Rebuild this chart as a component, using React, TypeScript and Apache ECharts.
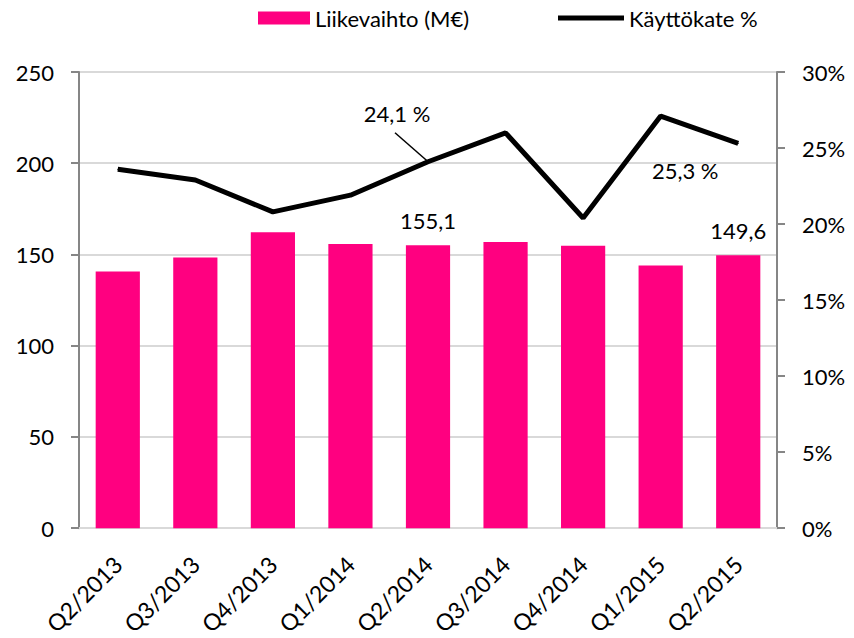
import React, { useEffect, useRef } from 'react';
import * as echarts from 'echarts';

const categories = ['Q2/2013', 'Q3/2013', 'Q4/2013', 'Q1/2014', 'Q2/2014', 'Q3/2014', 'Q4/2014', 'Q1/2015', 'Q2/2015'];
const revenue = [140.7, 148.3, 162.2, 155.8, 155.1, 156.9, 154.8, 143.9, 149.6];
const ebitdaPct = [23.6, 22.9, 20.8, 21.9, 24.1, 26.0, 20.4, 27.1, 25.3];
const revenueLabelIdx = [4, 8];
const ebitdaLabelIdx = [4, 8];
const leaderIdx = 4;
const leftTicks = { min: 0, max: 250, interval: 50 };
const rightTicks = { min: 0, max: 30, interval: 5 };
const seriesNames = ['Liikevaihto (M€)', 'Käyttökate %'];

const FONT = 'Lato, "Noto Sans", sans-serif';
const fi = (v: number) => v.toFixed(1).replace('.', ',');

export default function App() {
  const ref = useRef<HTMLDivElement>(null);
  useEffect(() => {
    if (!ref.current) return;
    const chart = echarts.init(ref.current, null, { renderer: 'svg' });
    const barData = revenue.map((v, i) =>
      revenueLabelIdx.includes(i) ? { value: v, label: { show: true } } : v
    );
    const lineData = ebitdaPct.map((v, i) =>
      ebitdaLabelIdx.includes(i) ? { value: v, label: { show: true } } : v
    );
    const labelShift: Record<number, { dx: number; dy: number }> = {
      4: { dx: -31, dy: -32 },
      8: { dx: -53, dy: 44 },
    };
    chart.setOption({
      animation: false,
      textStyle: { fontFamily: FONT },
      legend: [
        {
          left: 258,
          top: 7,
          padding: 0,
          itemWidth: 52,
          itemHeight: 13,
          icon: 'rect',
          data: [seriesNames[0]],
          textStyle: { fontFamily: FONT, fontSize: 22, color: '#000' },
        },
        {
          left: 558,
          top: 7,
          padding: 0,
          itemWidth: 66,
          itemHeight: 5,
          icon: 'rect',
          data: [seriesNames[1]],
          textStyle: { fontFamily: FONT, fontSize: 22, color: '#000' },
        },
      ],
      grid: { left: 79, right: 77, top: 72, bottom: 104, containLabel: false },
      xAxis: {
        type: 'category',
        data: categories,
        axisLine: { lineStyle: { color: '#d9d9d9', width: 2 } },
        axisTick: { show: false },
        axisLabel: {
          rotate: 45,
          margin: 32,
          interval: 0,
          fontFamily: FONT,
          fontSize: 23,
          color: '#000',
        },
      },
      yAxis: [
        {
          type: 'value',
          ...leftTicks,
          axisLine: { show: true, lineStyle: { color: '#868686', width: 2 } },
          axisTick: { show: true, length: 8, lineStyle: { color: '#868686', width: 2 } },
          axisLabel: { margin: 25, fontFamily: FONT, fontSize: 22, color: '#000' },
          splitLine: { show: true, lineStyle: { color: '#d9d9d9', width: 2 } },
        },
        {
          type: 'value',
          ...rightTicks,
          position: 'right',
          axisLine: { show: true, lineStyle: { color: '#868686', width: 2 } },
          axisTick: { show: true, length: 8, lineStyle: { color: '#868686', width: 2 } },
          axisLabel: { margin: 25, formatter: '{value}%', fontFamily: FONT, fontSize: 22, color: '#000' },
          splitLine: { show: false },
        },
      ],
      series: [
        {
          name: seriesNames[0],
          type: 'bar',
          data: barData,
          yAxisIndex: 0,
          barCategoryGap: '43%',
          itemStyle: { color: '#ff0080' },
          label: {
            show: false,
            position: 'top',
            distance: 14,
            formatter: (p: any) => fi(p.value),
            fontFamily: FONT,
            fontSize: 22,
            color: '#000',
          },
        },
        {
          name: seriesNames[1],
          type: 'line',
          data: lineData,
          yAxisIndex: 1,
          symbol: 'circle',
          symbolSize: 1,
          showSymbol: true,
          lineStyle: { color: '#000', width: 5 },
          itemStyle: { color: '#000' },
          label: {
            show: false,
            position: 'top',
            formatter: (p: any) => fi(p.value) + ' %',
            fontFamily: FONT,
            fontSize: 22,
            color: '#000',
          },
          labelLayout: (params: any) => labelShift[params.dataIndex] || {},
          z: 3,
        },
        {
          name: 'leader',
          type: 'custom',
          yAxisIndex: 1,
          silent: true,
          data: [[leaderIdx, ebitdaPct[leaderIdx]]],
          renderItem: (_params: any, api: any) => {
            const p = api.coord([api.value(0), api.value(1)]);
            return {
              type: 'line',
              shape: { x1: p[0] - 1, y1: p[1] - 1, x2: p[0] - 33, y2: p[1] - 29 },
              style: { stroke: '#000', lineWidth: 1.5 },
            };
          },
          z: 4,
        },
      ],
    });
    return () => chart.dispose();
  }, []);
  return (
    <div
      ref={ref}
      style={{ position: 'absolute', left: 0, top: 0, width: 854, height: 638 }}
    />
  );
}
